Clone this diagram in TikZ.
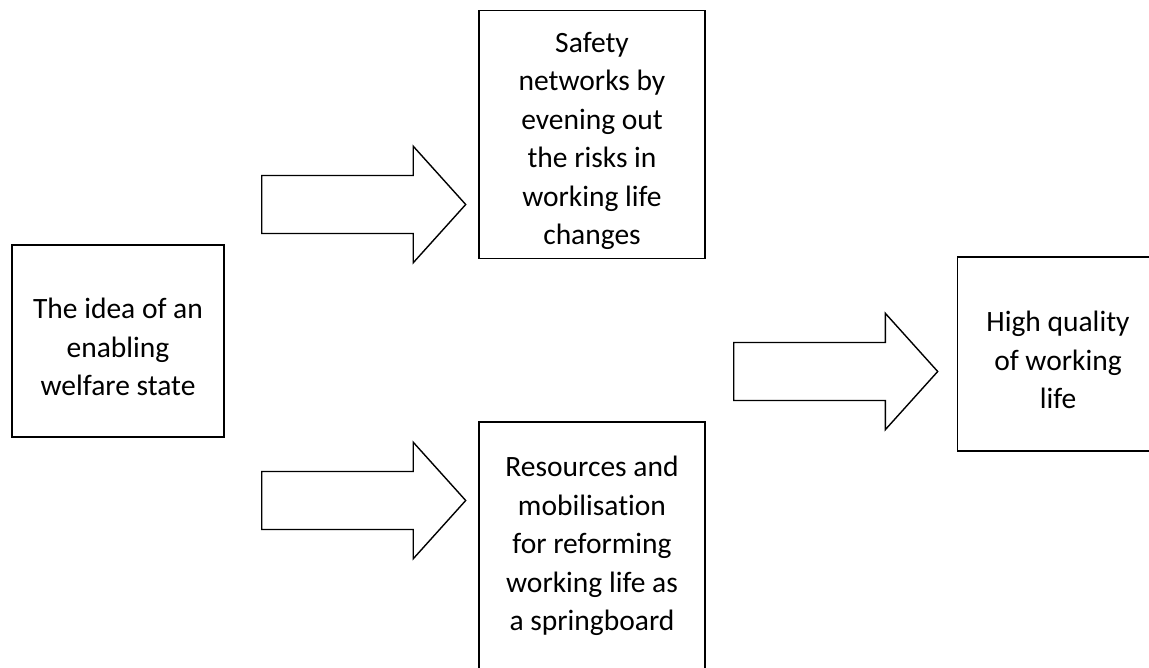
\documentclass[tikz,border=0pt]{standalone}
\usepackage{fontspec}
\setmainfont{Carlito}[Ligatures=NoCommon]
\usetikzlibrary{positioning, shapes.arrows}

\newcommand{\toppad}{\rule{0pt}{33pt}}

\tikzset{
  box/.style={draw, line width=1.4pt, align=center, inner sep=0pt,
    font=\fontsize{29.5}{38.5}\selectfont},
  fat/.style={single arrow, draw, line width=1.4pt, inner xsep=0pt, inner ysep=28.3pt,
    anchor=tail, minimum height=204pt, minimum width=115pt,
    single arrow head extend=29.2pt, single arrow tip angle=96}
}

\begin{document}
\begin{tikzpicture}[x=1pt, y=1pt]
    \useasboundingbox (0,0) rectangle (1149,-668);
    \node[box, minimum width=212pt, minimum height=192pt] (idea) at (118,-341)
        {\toppad The idea of an\\enabling\\welfare state};
    \node[box, minimum width=226pt, minimum height=248pt] (safety) at (592,-134.6)
        {\toppad Safety\\networks by\\evening out\\the risks in\\working life\\changes};
    \node[box, minimum width=226pt, minimum height=248pt] (resources) [below=162pt of safety]
        {Resources and\\mobilisation\\for reforming\\working life as\\a springboard};
    \node[box, minimum width=201pt, minimum height=194pt] (quality) at (1058,-354)
        {\toppad High quality\\of working\\life};
    \node[fat] (up) at (261,-204.5) {};
    \node[fat] (down) at (261,-500.5) {};
    \node[fat] (out) at (733,-371.5) {};
\end{tikzpicture}
\end{document}
